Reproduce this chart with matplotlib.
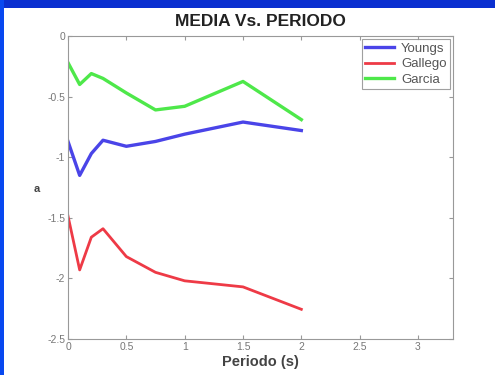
import matplotlib.pyplot as plt
from matplotlib.patches import Rectangle

plt.rcParams['font.family'] = ['Liberation Sans', 'DejaVu Sans']

periodo = [0, 0.1, 0.2, 0.3, 0.5, 0.75, 1.0, 1.5, 2.0]
youngs = [-0.87, -1.15, -0.97, -0.86, -0.91, -0.87, -0.81, -0.71, -0.78]
gallego = [-1.485, -1.93, -1.66, -1.59, -1.82, -1.95, -2.02, -2.07, -2.255]
garcia = [-0.22, -0.40, -0.31, -0.35, -0.47, -0.61, -0.58, -0.375, -0.69]

xticks = [0, 0.5, 1, 1.5, 2, 2.5, 3]
yticks = [0, -0.5, -1, -1.5, -2, -2.5]

fig = plt.figure(figsize=(4.95, 3.75), dpi=100)
fig.patch.set_facecolor('#0a2fd0')
# white slide panel
fig.add_artist(Rectangle((4 / 495, 0), 1, 1 - 8 / 375, transform=fig.transFigure,
                         facecolor='white', edgecolor='none', zorder=-10))
# brighter blue strip on the left
fig.add_artist(Rectangle((0, 0), 4 / 495, 1, transform=fig.transFigure,
                         facecolor='#0848f0', edgecolor='none', zorder=-10))

ax = fig.add_axes([68 / 495, 36 / 375, 385 / 495, 303 / 375])
ax.plot(periodo, youngs, color='#4a44e8', lw=2.4, label='Youngs')
ax.plot(periodo, gallego, color='#ee3a46', lw=2.0, label='Gallego')
ax.plot(periodo, garcia, color='#4ee84a', lw=2.4, label='Garcia')

ax.set_xlim(0, 3.3)
ax.set_ylim(-2.5, 0)
ax.set_xticks(xticks)
ax.set_xticklabels(['0', '0.5', '1', '1.5', '2', '2.5', '3'])
ax.set_yticks(yticks)
ax.set_yticklabels(['0', '-0.5', '-1', '-1.5', '-2', '-2.5'])
ax.tick_params(direction='in', length=3, labelsize=7.5, labelcolor='#777777',
               color='#999999', top=True, right=True, pad=2)
for s in ax.spines.values():
    s.set_color('#999999')
    s.set_linewidth(0.8)

ax.set_title('MEDIA Vs. PERIODO', fontsize=12.5, fontweight='bold', color='#222222', pad=7)
ax.set_xlabel('Periodo (s)', fontsize=10.5, fontweight='bold', color='#444444', labelpad=2)
ax.set_ylabel('a', fontsize=8, fontweight='bold', color='#444444', rotation=0)
ax.yaxis.set_label_coords(-0.08, 0.48)

leg = ax.legend(loc='upper right', fontsize=9.5, frameon=True, fancybox=False,
                handlelength=2.2, borderaxespad=0.25, labelspacing=0.25,
                handletextpad=0.5, borderpad=0.25)
leg.get_frame().set_edgecolor('#888888')
leg.get_frame().set_linewidth(0.8)
for t in leg.get_texts():
    t.set_color('#555555')

fig.savefig('out.png', dpi=100, facecolor=fig.get_facecolor())
